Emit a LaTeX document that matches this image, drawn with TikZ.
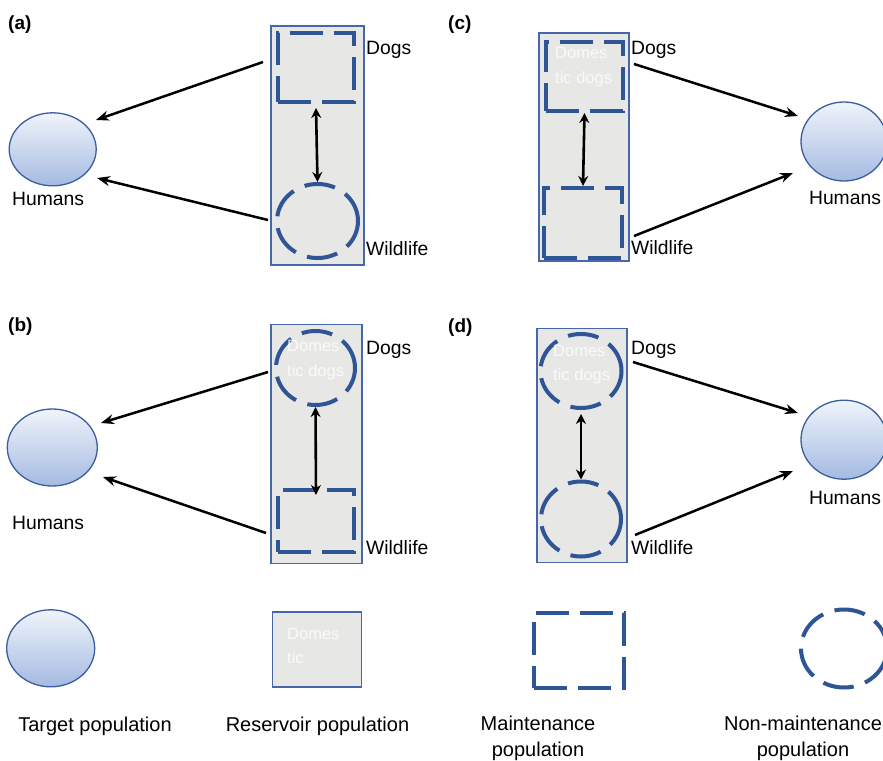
\documentclass[tikz,border=0pt]{standalone}
\usepackage{fontspec}
\setmainfont{Liberation Sans}
\usetikzlibrary{arrows.meta,shapes.geometric}
\definecolor{dblue}{RGB}{47,85,151}
\definecolor{rborder}{RGB}{70,104,168}
\definecolor{tborder}{RGB}{58,94,158}
\definecolor{tlight}{RGB}{240,244,251}
\definecolor{tdark}{RGB}{164,186,225}
\definecolor{resfill}{RGB}{231,231,229}
\tikzset{
  target/.style={ellipse, draw=tborder, line width=1.3pt, top color=tlight, bottom color=tdark, inner sep=0pt},
  reservoir/.style={rectangle, draw=rborder, line width=1.5pt, fill=resfill, inner sep=0pt},
  maint/.style={rectangle, draw=dblue, line width=4pt, dash pattern=on 33pt off 11pt, inner sep=0pt},
  nonmaint/.style={ellipse, draw=dblue, line width=4pt, dash pattern=on 31pt off 12pt, inner sep=0pt},
  arr/.style={-{Stealth[length=13pt,width=10pt]}, line width=2.5pt, black},
  darr/.style={{Stealth[length=10pt,width=10pt]}-{Stealth[length=10pt,width=10pt]}, line width=2.6pt, black},
  lbl/.style={font=\fontsize{19.3}{23}\selectfont, inner sep=0pt, anchor=base west},
  lblc/.style={font=\fontsize{19.3}{23}\selectfont, inner sep=0pt, anchor=base},
  leg/.style={font=\fontsize{20}{24}\selectfont, inner sep=0pt, anchor=base},
  plabel/.style={font=\bfseries\fontsize{19}{23}\selectfont, inner sep=0pt, anchor=base west},
  ghost/.style={text=white, text opacity=0.8, font=\fontsize{16.5}{20}\selectfont, inner sep=0pt, anchor=base west}
}
\begin{document}
\begin{tikzpicture}[x=1pt,y=-1pt]
\useasboundingbox[fill=white] (0,0) rectangle (883,760);

% ---------------- panel (a)
\node[plabel] (la) at (8,30) {(a)};
\node[reservoir, minimum width=93pt, minimum height=239pt] (ra) at (317.5,145.5) {};
\node[maint, minimum width=76pt, minimum height=69pt] (da) at (316,67.5) {};
\node[nonmaint, minimum width=81pt, minimum height=74pt] (wa) at (317.5,221) {};
\node[target, minimum width=87pt, minimum height=73pt] (ha) at (52.7,149.3) {};
\node[lbl] (hta) at (12,205) {Humans};
\node[lbl] (dta) at (366,55) {Dogs};
\node[lbl] (wta) at (366,255) {Wildlife};
\coordinate (a1s) at (263,62);  \coordinate (a1e) at (96,120);
\coordinate (a2s) at (268,220); \coordinate (a2e) at (97,178);
\draw[arr] (a1s) -- (a1e);
\draw[arr] (a2s) -- (a2e);
\draw[darr] ([yshift=-4pt]da.south) -- (wa.north);

% ---------------- panel (c)
\node[plabel] (lc) at (448,30) {(c)};
\node[reservoir, minimum width=90pt, minimum height=228pt] (rc) at (584,147) {};
\node[maint, minimum width=77pt, minimum height=69pt] (dc) at (584.5,76.5) {};
\node[maint, minimum width=78pt, minimum height=70pt] (wc) at (583,223) {};
\node[ghost] (gc1) at (555,59) {Domes};
\node[ghost] (gc2) at (555,84) {tic dogs};
\node[target, minimum width=86pt, minimum height=79pt] (hc) at (844,141.5) {};
\node[lblc] (htc) at (845,204) {Humans};
\node[lbl] (dtc) at (631,55) {Dogs};
\node[lbl] (wtc) at (631,254) {Wildlife};
\coordinate (c1s) at (634,64);  \coordinate (c1e) at (798,116);
\coordinate (c2s) at (634,236); \coordinate (c2e) at (793,173);
\draw[arr] (c1s) -- (c1e);
\draw[arr] (c2s) -- (c2e);
\draw[darr] (dc.south) -- (wc.north);

% ---------------- panel (b)
\node[plabel] (lb) at (8,331) {(b)};
\node[reservoir, minimum width=91pt, minimum height=239pt] (rb) at (316.5,443.8) {};
\node[nonmaint, minimum width=79pt, minimum height=74pt] (db) at (315.5,368) {};
\node[ghost] (gb1) at (287,351) {Domes};
\node[ghost] (gb2) at (287,376) {tic dogs};
\node[maint, minimum width=76pt, minimum height=62pt] (wb) at (316,521) {};
\node[target, minimum width=90pt, minimum height=77pt] (hb) at (52.3,447.5) {};
\node[lbl] (htb) at (12,529) {Humans};
\node[lbl] (dtb) at (366,354) {Dogs};
\node[lbl] (wtb) at (366,554) {Wildlife};
\coordinate (b1s) at (268,372); \coordinate (b1e) at (101,423);
\coordinate (b2s) at (266,533); \coordinate (b2e) at (103,477);
\draw[arr] (b1s) -- (b1e);
\draw[arr] (b2s) -- (b2e);
\draw[darr] (db.south) -- ([yshift=-7pt]wb.north);

% ---------------- panel (d)
\node[plabel] (ld) at (448,332) {(d)};
\node[reservoir, minimum width=90pt, minimum height=234pt] (rd) at (582,445.5) {};
\node[nonmaint, minimum width=81pt, minimum height=74pt] (dd) at (581,371) {};
\node[ghost] (gd1) at (553,356) {Domes};
\node[ghost] (gd2) at (553,380) {tic dogs};
\node[nonmaint, minimum width=80pt, minimum height=75pt] (wd) at (581,519) {};
\node[target, minimum width=86pt, minimum height=79pt] (hd) at (844,439.7) {};
\node[lblc] (htd) at (845,504) {Humans};
\node[lbl] (dtd) at (631,354) {Dogs};
\node[lbl] (wtd) at (631,554) {Wildlife};
\coordinate (d1s) at (633,362); \coordinate (d1e) at (798,413);
\coordinate (d2s) at (635,535); \coordinate (d2e) at (793,471);
\draw[arr] (d1s) -- (d1e);
\draw[arr] (d2s) -- (d2e);
\draw[darr] ([yshift=-4pt]dd.south) -- (wd.north);

% ---------------- legend
\node[target, minimum width=88pt, minimum height=77pt] (lt) at (50.7,648.3) {};
\node[reservoir, minimum width=89pt, minimum height=75pt] (lr) at (317,649.5) {};
\node[ghost] (gl1) at (287,639) {Domes};
\node[ghost] (gl2) at (287,663) {tic};
\node[maint, minimum width=90pt, minimum height=75pt] (lm) at (579,650.5) {};
\node[nonmaint, minimum width=86pt, minimum height=78pt] (ln) at (844,648.5) {};
\node[leg] (tt) at (95,731) {Target population};
\node[leg] (tr) at (317.5,731) {Reservoir population};
\node[leg] (tm1) at (538,730) {Maintenance};
\node[leg] (tm2) at (538,756) {population};
\node[leg] (tn1) at (803,730) {Non-maintenance};
\node[leg] (tn2) at (803,756) {population};
\end{tikzpicture}
\end{document}
